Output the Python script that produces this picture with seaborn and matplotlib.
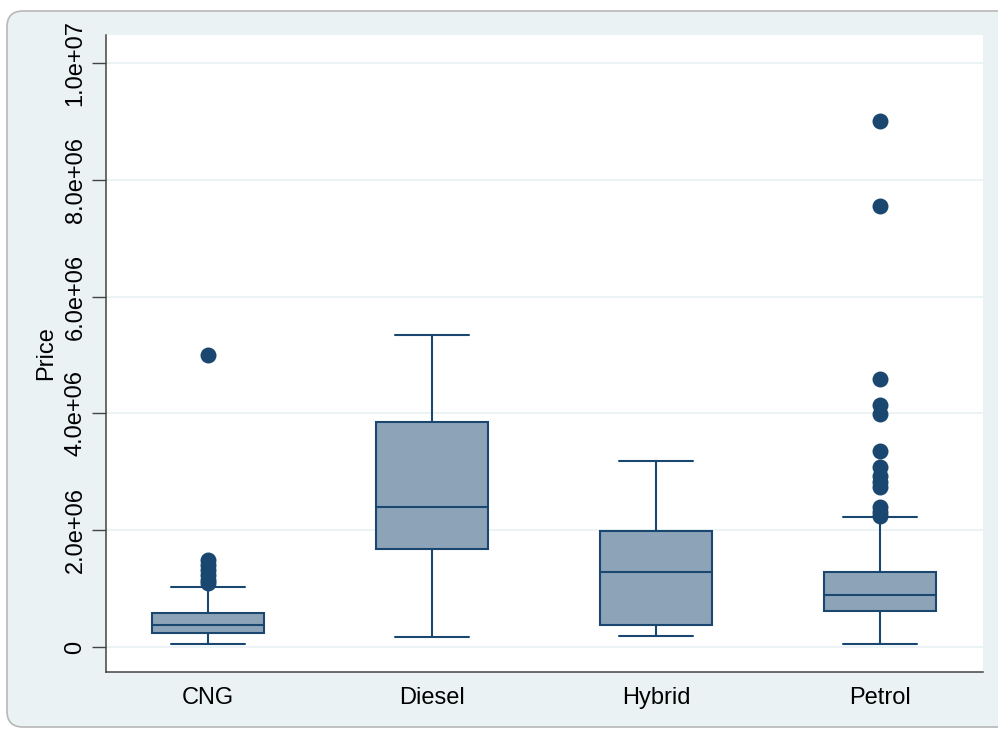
import pandas as pd
import seaborn as sns
import matplotlib.pyplot as plt
from matplotlib.patches import FancyBboxPatch

# valores (precio por tipo de combustible)
fuel = ["CNG", "Diesel", "Hybrid", "Petrol"]
# bigote inferior, q1, mediana, q3, bigote superior
lower_whisker = [0.05e6, 0.17e6, 0.18e6, 0.05e6]
q1 = [0.24e6, 1.68e6, 0.38e6, 0.62e6]
median = [0.38e6, 2.40e6, 1.28e6, 0.89e6]
q3 = [0.58e6, 3.85e6, 1.99e6, 1.29e6]
upper_whisker = [1.03e6, 5.34e6, 3.19e6, 2.22e6]

outliers_cng = [5.0e6, 1.49e6, 1.40e6, 1.32e6, 1.23e6, 1.15e6, 1.10e6]
outliers_petrol = [9.0e6, 7.55e6, 4.59e6, 4.14e6, 3.99e6, 3.36e6, 3.09e6,
                   2.92e6, 2.83e6, 2.74e6, 2.40e6, 2.32e6, 2.25e6]

yticks = [0, 2e6, 4e6, 6e6, 8e6, 1e7]
ytick_labels = ["0", "2.0e+06", "4.0e+06", "6.0e+06", "8.0e+06", "1.0e+07"]

navy = "#1a476f"
fill = "#8da3b8"
bg = "#eaf2f3"

# tabla larga con los cinco numeros de cada caja
BoxDf = pd.DataFrame({"fuel": [], "price": []})
for i, f in enumerate(fuel):
    vals = [lower_whisker[i], q1[i], median[i], q3[i], upper_whisker[i]]
    BoxDf = pd.concat([BoxDf, pd.DataFrame({"fuel": [f] * 5, "price": vals})], ignore_index=True)

OutDf = pd.DataFrame({"fuel": ["CNG"] * len(outliers_cng) + ["Petrol"] * len(outliers_petrol),
                      "price": outliers_cng + outliers_petrol})

sns.set_style("white")
plt.rcParams["font.family"] = ["Liberation Sans", "DejaVu Sans"]
plt.rcParams["text.color"] = "black"
plt.rcParams["axes.labelcolor"] = "black"
plt.rcParams["xtick.color"] = "black"
plt.rcParams["ytick.color"] = "black"

fig = plt.figure(figsize=(9.98, 7.29), dpi=100)
fig.patch.set_facecolor("white")

# marco gris con esquinas redondeadas
frame = FancyBboxPatch((0.07, 0.02), 10.2, 7.16, boxstyle="round,pad=0,rounding_size=0.16",
                       transform=fig.dpi_scale_trans, facecolor=bg, edgecolor="#b8b8b8",
                       linewidth=1.2, zorder=-1)
fig.patches.append(frame)

ax = fig.add_axes([106 / 998, 1 - 672 / 729, (983 - 106) / 998, (672 - 35) / 729])
ax.set_facecolor("white")

sns.boxplot(data=BoxDf, x="fuel", y="price", order=fuel, whis=(0, 100), showfliers=False,
            width=0.5, color=fill, linecolor=navy, linewidth=1.5, saturation=1, ax=ax)

# bigotes con tapas mas anchas (estilo Stata)
for cont in ax.containers:
    for cap in cont.caps:
        xs = cap.get_xdata()
        c = (xs[0] + xs[1]) / 2
        cap.set_xdata([c - 0.165, c + 0.165])

sns.stripplot(data=OutDf, x="fuel", y="price", order=fuel, jitter=False, size=11.5,
              color=navy, linewidth=0, ax=ax)

ax.set_xlim(-0.455, 3.46)
ax.set_ylim(-0.428e6, 10.479e6)
ax.set_yticks(yticks)
ax.set_yticklabels(ytick_labels)
ax.yaxis.grid(True, color=bg, linewidth=1.3)
ax.set_axisbelow(True)

ax.tick_params(axis="y", labelrotation=90, length=10, width=1, color="#444444", pad=4,
               labelsize=17, left=True)
ax.tick_params(axis="x", length=0, pad=11, labelsize=17)
for lab in ax.get_yticklabels():
    lab.set_va("center")

ax.set_xlabel("")
ax.set_ylabel("Price", fontsize=17, labelpad=5)

for s in ["top", "right"]:
    ax.spines[s].set_visible(False)
for s in ["left", "bottom"]:
    ax.spines[s].set_color("#444444")
    ax.spines[s].set_linewidth(1.1)

fig.savefig("out.png", dpi=100)
